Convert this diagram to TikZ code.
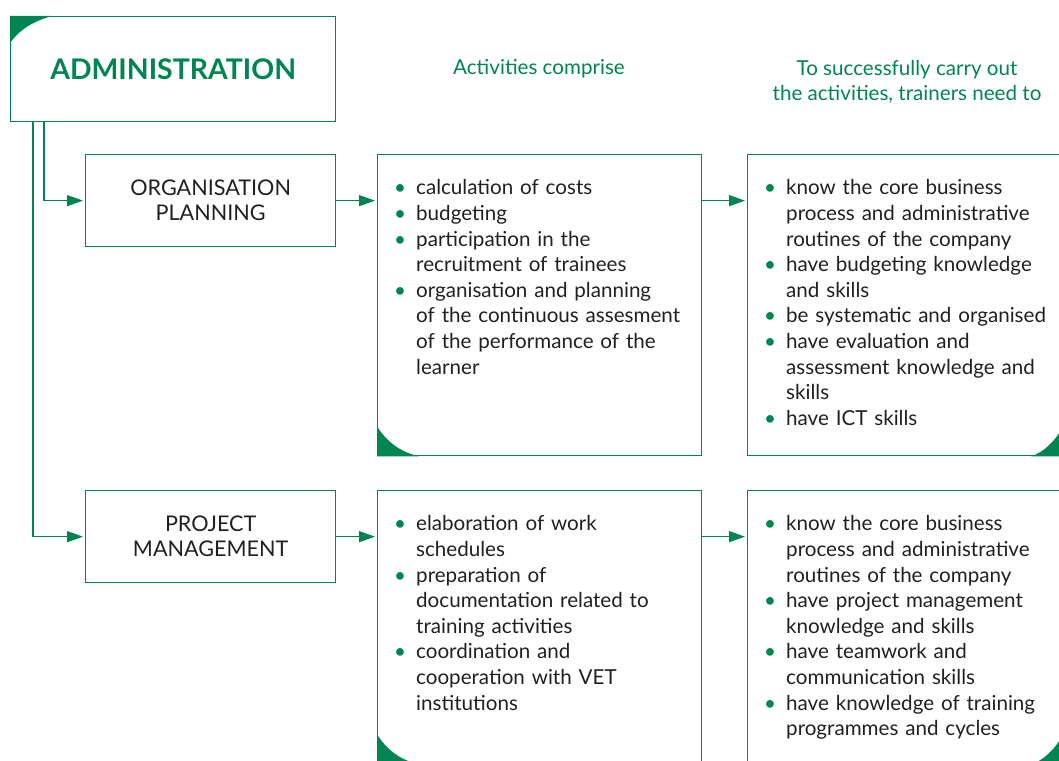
\documentclass[tikz,border=0pt]{standalone}
\usepackage{fontspec}
\setmainfont{Lato}
\usetikzlibrary{arrows.meta,calc}

\definecolor{adgreen}{RGB}{0,133,82}
\definecolor{adtext}{RGB}{35,31,32}

% one bullet item with hanging indent
\newcommand{\itm}[1]{\par\hangindent=22pt\hangafter=1\noindent\makebox[22pt][l]{\textcolor{adgreen}{\textbullet}}#1}

\begin{document}
\begin{tikzpicture}[x=1pt,y=-1pt,
  every node/.style={text=adtext, font=\fontsize{20.6}{25.6}\selectfont},
  box/.style={draw=adgreen, line width=1.3pt, inner sep=0pt, anchor=north west},
  listtext/.style={align=left, text width=330pt, inner sep=0pt, anchor=north west},
  hdr/.style={text=adgreen, align=center},
  arr/.style={draw=adgreen, line width=1.3pt, shorten >=2pt, -{Triangle[length=16pt,width=11pt]}}]

  \useasboundingbox (0,0) rectangle (1059,760);
  \clip (0,0) rectangle (1059,760);

  \node[box, minimum width=325pt, minimum height=105pt, text=adgreen, font=\fontsize{28.4}{30}\selectfont\bfseries] (admin) at (10,16) {ADMINISTRATION};

  \node[hdr] (hdrAct) at (539,69) {Activities comprise};
  \node[hdr] (hdrSkill) at (907,82) {To successfully carry out\\the activities, trainers need to};

  \node[box, minimum width=250pt, minimum height=92pt, align=center, font=\fontsize{21.6}{25}\selectfont] (org) at (85,154) {ORGANISATION\\PLANNING};
  \node[box, minimum width=250pt, minimum height=92pt, align=center, font=\fontsize{21.6}{25}\selectfont] (proj) at (85,490) {PROJECT\\MANAGEMENT};

  \node[box, minimum width=324pt, minimum height=301pt] (actA) at (377,154) {};
  \node[box, minimum width=315pt, minimum height=301pt] (skillA) at (747,154) {};
  \node[box, minimum width=324pt, minimum height=273pt] (actB) at (377,490) {};
  \node[box, minimum width=315pt, minimum height=273pt] (skillB) at (747,490) {};

  % green corners
  \fill[adgreen] (admin.north west) -- ($(admin.north west)+(42,0)$) .. controls ($(admin.north west)+(24,5)$) and ($(admin.north west)+(10,13)$) .. ($(admin.north west)+(0,27)$) -- cycle;
  \fill[adgreen] (actA.south west) -- ($(actA.south west)+(0,-30)$) .. controls ($(actA.south west)+(10,-14)$) and ($(actA.south west)+(24,-4)$) .. ($(actA.south west)+(42,0)$) -- cycle;
  \fill[adgreen] (actB.south west) -- ($(actB.south west)+(0,-30)$) .. controls ($(actB.south west)+(10,-14)$) and ($(actB.south west)+(24,-4)$) .. ($(actB.south west)+(42,0)$) -- cycle;
  \fill[adgreen] (skillA.south east) -- ($(skillA.south east)+(0,-30)$) .. controls ($(skillA.south east)+(-9,-14)$) and ($(skillA.south east)+(-20,-4)$) .. ($(skillA.south east)+(-32,0)$) -- cycle;
  \fill[adgreen] (skillB.south east) -- ($(skillB.south east)+(0,-30)$) .. controls ($(skillB.south east)+(-9,-14)$) and ($(skillB.south east)+(-20,-4)$) .. ($(skillB.south east)+(-32,0)$) -- cycle;

  \node[listtext] (actAtxt) at ($(actA.north west)+(17,15)$) {%
    \itm{calculation of costs}
    \itm{budgeting}
    \itm{participation in the\newline recruitment of trainees}
    \itm{organisation and planning\newline of the continuous assesment\newline of the performance of the\newline learner}\par};
  \node[listtext] (skillAtxt) at ($(skillA.north west)+(17,15)$) {%
    \itm{know the core business\newline process and administrative\newline routines of the company}
    \itm{have budgeting knowledge\newline and skills}
    \itm{be systematic and organised}
    \itm{have evaluation and\newline assessment knowledge and\newline skills}
    \itm{have ICT skills}\par};
  \node[listtext] (actBtxt) at ($(actB.north west)+(17,15)$) {%
    \itm{elaboration of work\newline schedules}
    \itm{preparation of\newline documentation related to\newline training activities}
    \itm{coordination and\newline cooperation with VET\newline institutions}\par};
  \node[listtext] (skillBtxt) at ($(skillB.north west)+(17,15)$) {%
    \itm{know the core business\newline process and administrative\newline routines of the company}
    \itm{have project management\newline knowledge and skills}
    \itm{have teamwork and\newline communication skills}
    \itm{have knowledge of training\newline programmes and cycles}\par};

  \draw[arr] ([xshift=34pt]admin.south west) |- (org.west);
  \draw[arr] ([xshift=23pt]admin.south west) |- (proj.west);
  \draw[arr] (org.east) -- (org.east -| actA.west);
  \draw[arr] (org.east -| actA.east) -- (org.east -| skillA.west);
  \draw[arr] (proj.east) -- (proj.east -| actB.west);
  \draw[arr] (proj.east -| actB.east) -- (proj.east -| skillB.west);

\end{tikzpicture}
\end{document}
